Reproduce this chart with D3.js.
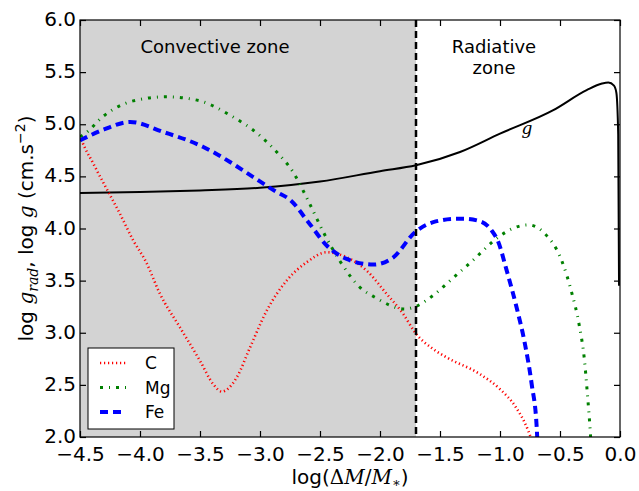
<!DOCTYPE html>
<html><head><meta charset="utf-8">
<script src="https://cdn.jsdelivr.net/npm/d3@7"></script>
<style>body{margin:0;background:#fff} svg{display:block}</style>
</head><body><svg id="c" width="639" height="491"></svg>
<script>
// ---- data ----
const xTicks = [-4.5,-4.0,-3.5,-3.0,-2.5,-2.0,-1.5,-1.0,-0.5,0.0];
const yTicks = [2.0,2.5,3.0,3.5,4.0,4.5,5.0,5.5,6.0];
const convectiveBoundary = -1.7;
const gCurve = [[-4.5,4.34],[-4.0,4.35],[-3.5,4.365],[-3.0,4.39],[-2.5,4.45],[-2.0,4.55],[-1.7,4.606],[-1.333,4.734],[-1.0,4.91],[-0.556,5.135],[-0.278,5.327],[-0.15,5.39],[-0.097,5.40],[-0.05,5.37],[-0.03,5.30],[-0.015,4.9],[-0.008,3.45]];
const cCurve = [[-4.5,4.89],[-4.486,4.846],[-4.389,4.622],[-4.278,4.381],[-4.167,4.141],[-4.056,3.885],[-3.95,3.68],[-3.833,3.372],[-3.667,3.051],[-3.5,2.731],[-3.389,2.506],[-3.319,2.436],[-3.194,2.571],[-3.083,2.859],[-2.944,3.212],[-2.778,3.5],[-2.611,3.676],[-2.444,3.772],[-2.278,3.724],[-2.111,3.596],[-1.944,3.372],[-1.806,3.18],[-1.708,3.003],[-1.556,2.843],[-1.444,2.763],[-1.167,2.603],[-1.0,2.459],[-0.875,2.298],[-0.764,2.058],[-0.745,2.0]];
const mgCurve = [[-4.5,4.88],[-4.458,4.91],[-4.306,5.077],[-4.056,5.224],[-3.778,5.263],[-3.5,5.224],[-3.25,5.087],[-3.014,4.904],[-2.861,4.734],[-2.728,4.548],[-2.597,4.263],[-2.472,3.965],[-2.333,3.686],[-2.167,3.436],[-2.042,3.34],[-1.792,3.228],[-1.708,3.25],[-1.542,3.372],[-1.431,3.484],[-1.222,3.699],[-1.014,3.917],[-0.889,4.003],[-0.764,4.035],[-0.633,3.958],[-0.486,3.692],[-0.403,3.388],[-0.339,3.067],[-0.297,2.747],[-0.272,2.417],[-0.25,2.09],[-0.245,2.0]];
const feCurve = [[-4.5,4.845],[-4.486,4.853],[-4.3,4.95],[-4.083,5.022],[-3.806,4.926],[-3.472,4.782],[-3.25,4.638],[-3.056,4.493],[-2.861,4.35],[-2.75,4.276],[-2.597,4.061],[-2.444,3.837],[-2.278,3.708],[-2.056,3.654],[-1.889,3.724],[-1.708,3.965],[-1.556,4.061],[-1.361,4.093],[-1.306,4.093],[-1.167,4.07],[-1.069,3.98],[-1.014,3.87],[-0.944,3.596],[-0.861,3.24],[-0.792,2.891],[-0.736,2.507],[-0.694,2.09],[-0.69,2.0]];
const legendLabels = ["C","Mg","Fe"];

// ---- layout ----
const svg = d3.select("#c");
const L=80, R=620, T=20, B=437;
const x = d3.scaleLinear().domain([-4.5,0]).range([L,R]);
const y = d3.scaleLinear().domain([2,6]).range([B,T]);
const font = "DejaVu Sans, sans-serif";
const mathFont = "DejaVu Serif, serif";

svg.append("defs").append("clipPath").attr("id","clip")
  .append("rect").attr("x",L).attr("y",T).attr("width",R-L).attr("height",B-T);

// convective zone shading
svg.append("rect").attr("x",x(-4.5)).attr("y",T)
  .attr("width",x(convectiveBoundary)-x(-4.5)).attr("height",B-T).attr("fill","#d3d3d3");

const line = d3.line().x(d=>x(d[0])).y(d=>y(d[1])).curve(d3.curveMonotoneX);
const plot = svg.append("g").attr("clip-path","url(#clip)");

const styles = [
  {data:cCurve, color:"#ff0000", w:2.6, dash:"1.2,2.8"},
  {data:mgCurve, color:"#008000", w:3, dash:"3,6,1,6"},
  {data:feCurve, color:"#0000ff", w:4, dash:"8,5"}
];
plot.append("path").attr("d",line(gCurve)).attr("fill","none").attr("stroke","#000").attr("stroke-width",2);
styles.forEach(s=>{
  plot.append("path").attr("d",line(s.data)).attr("fill","none")
    .attr("stroke",s.color).attr("stroke-width",s.w).attr("stroke-dasharray",s.dash);
});
// boundary line
plot.append("line").attr("x1",x(convectiveBoundary)).attr("x2",x(convectiveBoundary))
  .attr("y1",T).attr("y2",B).attr("stroke","#000").attr("stroke-width",2.5).attr("stroke-dasharray","7,4");

// frame
svg.append("rect").attr("x",L).attr("y",T).attr("width",R-L).attr("height",B-T)
  .attr("fill","none").attr("stroke","#000").attr("stroke-width",1.2);

// axes with inward ticks
const fmt = d => d3.format(".1f")(d).replace("-","\u2212");
const xb = svg.append("g").attr("transform",`translate(0,${B})`)
  .call(d3.axisBottom(x).tickValues(xTicks).tickFormat(fmt).tickSizeInner(-6).tickSizeOuter(0).tickPadding(9.5));
const xt = svg.append("g").attr("transform",`translate(0,${T})`)
  .call(d3.axisTop(x).tickValues(xTicks).tickFormat("").tickSizeInner(-6).tickSizeOuter(0));
const yl = svg.append("g").attr("transform",`translate(${L},0)`)
  .call(d3.axisLeft(y).tickValues(yTicks).tickFormat(fmt).tickSizeInner(-6).tickSizeOuter(0).tickPadding(4));
const yr = svg.append("g").attr("transform",`translate(${R},0)`)
  .call(d3.axisRight(y).tickValues(yTicks).tickFormat("").tickSizeInner(-6).tickSizeOuter(0));
[xb,xt,yl,yr].forEach(g=>{
  g.select(".domain").remove();
  g.selectAll("line").attr("stroke","#000").attr("stroke-width",1.2);
  g.selectAll("text").attr("font-family",font).attr("font-size",20).attr("fill","#000");
});
yl.selectAll("text").attr("dy","0.28em");

// zone labels
svg.append("text").attr("x",215).attr("y",53).attr("text-anchor","middle")
  .attr("font-family",font).attr("font-size",18).text("Convective zone");
svg.append("text").attr("x",494).attr("y",53).attr("text-anchor","middle")
  .attr("font-family",font).attr("font-size",18).text("Radiative");
svg.append("text").attr("x",494).attr("y",74).attr("text-anchor","middle")
  .attr("font-family",font).attr("font-size",18).text("zone");
svg.append("text").attr("x",x(-0.775)).attr("y",134).attr("text-anchor","middle")
  .attr("font-family",mathFont).attr("font-style","italic").attr("font-size",17).text("g");

// x label
const xlab = svg.append("text").attr("x",(L+R)/2).attr("y",484).attr("text-anchor","middle")
  .attr("font-family",font).attr("font-size",20);
xlab.append("tspan").text("log(");
xlab.append("tspan").attr("font-family",mathFont).attr("font-style","normal").text("\u0394");
xlab.append("tspan").attr("font-family",mathFont).attr("font-style","italic").text("M");
xlab.append("tspan").attr("font-family",mathFont).text("/");
xlab.append("tspan").attr("font-family",mathFont).attr("font-style","italic").text("M");
xlab.append("tspan").attr("font-family",mathFont).attr("font-size",13).attr("dy",3).text("\u2217");
xlab.append("tspan").attr("dy",-3).text(")");

// y label
const ylab = svg.append("text").attr("transform",`translate(33,${(T+B)/2}) rotate(-90)`)
  .attr("text-anchor","middle").attr("font-family",font).attr("font-size",20);
ylab.append("tspan").text("log ");
ylab.append("tspan").attr("font-family",mathFont).attr("font-style","italic").text("g");
ylab.append("tspan").attr("font-family",mathFont).attr("font-style","italic").attr("font-size",14).attr("dy",5).text("rad");
ylab.append("tspan").attr("dy",-5).text(", log ");
ylab.append("tspan").attr("font-family",mathFont).attr("font-style","italic").text("g");
ylab.append("tspan").text(" (cm.s");
ylab.append("tspan").attr("font-size",14).attr("dy",-8).text("\u22122");
ylab.append("tspan").attr("dy",8).text(")");

// legend
const lg = svg.append("g");
lg.append("rect").attr("x",88).attr("y",348).attr("width",86).attr("height",81)
  .attr("fill","#fff").attr("stroke","#000").attr("stroke-width",1);
legendLabels.forEach((lab,i)=>{
  const yy = 363 + i*24.5;
  const s = styles[i];
  lg.append("line").attr("x1",100).attr("x2",126).attr("y1",yy).attr("y2",yy)
    .attr("stroke",s.color).attr("stroke-width",s.w).attr("stroke-dasharray",s.dash);
  lg.append("text").attr("x",145).attr("y",yy).attr("dy","0.36em")
    .attr("font-family",font).attr("font-size",17).text(lab);
});
</script></body></html>
